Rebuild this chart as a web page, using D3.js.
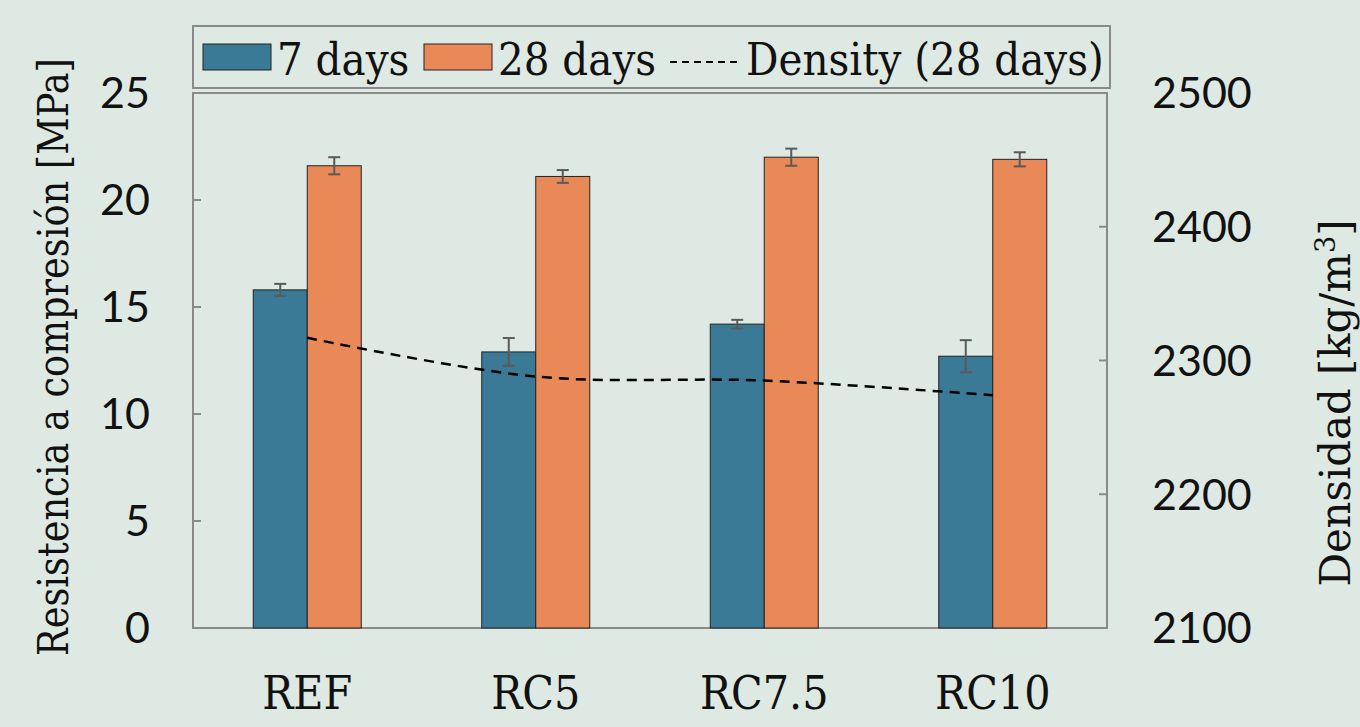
<!DOCTYPE html>
<html>
<head>
<meta charset="utf-8">
<script src="https://cdn.jsdelivr.net/npm/d3@7"></script>
<style>
  body { margin: 0; background: #dde9e2; }
  svg { display: block; }
  .slab { font-family: "DejaVu Serif Condensed", "DejaVu Serif", serif; font-stretch: condensed; }
  .num { font-family: Lato, "Open Sans", sans-serif; }
</style>
</head>
<body>
<div id="chart"></div>
<script>

var categories = ["REF", "RC5", "RC7.5", "RC10"];
var days7 = [15.8, 12.9, 14.2, 12.7];
var days7Err = [0.28, 0.65, 0.2, 0.75];
var days28 = [21.6, 21.1, 22.0, 21.9];
var days28Err = [0.4, 0.3, 0.4, 0.33];
var density28 = [2317, 2288, 2285, 2274];
var leftTicks = [0, 5, 10, 15, 20, 25];
var rightTicks = [2100, 2200, 2300, 2400, 2500];

var width = 1360,
    height = 727;

var plot = {left: 193, right: 1107, top: 93, bottom: 628};

var svg = d3.select("#chart").append("svg")
    .attr("width", width)
    .attr("height", height);

svg.append("rect")
    .attr("width", width)
    .attr("height", height)
    .attr("fill", "#dde9e2");

var x = d3.scaleBand()
    .domain(categories)
    .range([plot.left, plot.right]);

var yL = d3.scaleLinear().domain([0, 25]).range([plot.bottom, plot.top]);
var yR = d3.scaleLinear().domain([2100, 2500]).range([plot.bottom, plot.top]);

var barW = 54;

// plot frame
svg.append("rect")
    .attr("x", plot.left)
    .attr("y", plot.top)
    .attr("width", plot.right - plot.left)
    .attr("height", plot.bottom - plot.top)
    .attr("fill", "none")
    .attr("stroke", "#8a8a8a")
    .attr("stroke-width", 2);

// inner ticks left
svg.append("g").selectAll("line")
    .data(leftTicks.slice(1, -1))
    .enter().append("line")
    .attr("x1", plot.left).attr("x2", plot.left + 8)
    .attr("y1", function(d) { return yL(d); })
    .attr("y2", function(d) { return yL(d); })
    .attr("stroke", "#8a8a8a").attr("stroke-width", 2);

// inner ticks right
svg.append("g").selectAll("line")
    .data(rightTicks.slice(1, -1))
    .enter().append("line")
    .attr("x1", plot.right - 8).attr("x2", plot.right)
    .attr("y1", function(d) { return yR(d); })
    .attr("y2", function(d) { return yR(d); })
    .attr("stroke", "#8a8a8a").attr("stroke-width", 2);

// left tick labels
svg.append("g").selectAll("text")
    .data(leftTicks)
    .enter().append("text")
    .attr("class", "num")
    .attr("x", 150)
    .attr("y", function(d) { return yL(d); })
    .attr("dy", "0.36em")
    .attr("text-anchor", "end")
    .attr("font-size", 43)
    .attr("fill", "#111")
    .text(function(d) { return d; });

// right tick labels
svg.append("g").selectAll("text")
    .data(rightTicks)
    .enter().append("text")
    .attr("class", "num")
    .attr("x", 1152)
    .attr("y", function(d) { return yR(d); })
    .attr("dy", "0.36em")
    .attr("text-anchor", "start")
    .attr("font-size", 43)
    .attr("fill", "#111")
    .text(function(d) { return d; });

// bars
var bars = svg.append("g");
bars.selectAll("rect.d7")
    .data(days7)
    .enter().append("rect")
    .attr("class", "d7")
    .attr("x", function(d, i) { return x(categories[i]) + x.bandwidth() / 2 - barW; })
    .attr("y", function(d) { return yL(d); })
    .attr("width", barW)
    .attr("height", function(d) { return plot.bottom - yL(d); })
    .attr("fill", "#3b7a96")
    .attr("stroke", "#222")
    .attr("stroke-width", 1);

bars.selectAll("rect.d28")
    .data(days28)
    .enter().append("rect")
    .attr("class", "d28")
    .attr("x", function(d, i) { return x(categories[i]) + x.bandwidth() / 2; })
    .attr("y", function(d) { return yL(d); })
    .attr("width", barW)
    .attr("height", function(d) { return plot.bottom - yL(d); })
    .attr("fill", "#e88957")
    .attr("stroke", "#222")
    .attr("stroke-width", 1);

// error bars
function errorBars(vals, errs, offset) {
  var g = svg.append("g").attr("stroke", "#5a5a5a").attr("stroke-width", 2);
  vals.forEach(function(v, i) {
    var cx = x(categories[i]) + x.bandwidth() / 2 + offset;
    var y1 = yL(v + errs[i]), y2 = yL(v - errs[i]);
    g.append("line").attr("x1", cx).attr("x2", cx).attr("y1", y1).attr("y2", y2);
    g.append("line").attr("x1", cx - 6).attr("x2", cx + 6).attr("y1", y1).attr("y2", y1);
    g.append("line").attr("x1", cx - 6).attr("x2", cx + 6).attr("y1", y2).attr("y2", y2);
  });
}
errorBars(days7, days7Err, -barW / 2);
errorBars(days28, days28Err, barW / 2);

// density line
var line = d3.line()
    .x(function(d, i) { return x(categories[i]) + x.bandwidth() / 2; })
    .y(function(d) { return yR(d); })
    .curve(d3.curveCatmullRom.alpha(0.5));

svg.append("path")
    .datum(density28)
    .attr("d", line)
    .attr("fill", "none")
    .attr("stroke", "#000")
    .attr("stroke-width", 2.5)
    .attr("stroke-dasharray", "10,7");

// x labels
svg.append("g").selectAll("text")
    .data(categories)
    .enter().append("text")
    .attr("class", "slab")
    .attr("x", function(d) { return x(d) + x.bandwidth() / 2; })
    .attr("y", 709)
    .attr("text-anchor", "middle")
    .attr("font-size", 46)
    .attr("fill", "#111")
    .text(function(d) { return d; });

// axis titles
svg.append("text")
    .attr("class", "slab")
    .attr("transform", "translate(68,357) rotate(-90) scale(0.95,1)")
    .attr("text-anchor", "middle")
    .attr("font-size", 43)
    .attr("fill", "#111")
    .text("Resistencia a compresión [MPa]");

var rt = svg.append("text")
    .attr("class", "slab")
    .attr("transform", "translate(1350,403) rotate(-90) scale(1.08,1)")
    .attr("text-anchor", "middle")
    .attr("font-size", 43)
    .attr("fill", "#111");
rt.append("tspan").text("Densidad [kg/m");
rt.append("tspan").attr("dy", -15).attr("font-size", 28).text("3");
rt.append("tspan").attr("dy", 15).text("]");

// legend
var leg = svg.append("g");
leg.append("rect")
    .attr("x", 193).attr("y", 26)
    .attr("width", 917).attr("height", 62)
    .attr("fill", "none")
    .attr("stroke", "#8a8a8a")
    .attr("stroke-width", 2);

leg.append("rect").attr("x", 203).attr("y", 44).attr("width", 68).attr("height", 26)
    .attr("fill", "#3b7a96").attr("stroke", "#222").attr("stroke-width", 1);
leg.append("text").attr("class", "slab").attr("x", 277).attr("y", 75)
    .attr("font-size", 45).attr("fill", "#111").text("7 days");

leg.append("rect").attr("x", 424).attr("y", 44).attr("width", 68).attr("height", 26)
    .attr("fill", "#e88957").attr("stroke", "#222").attr("stroke-width", 1);
leg.append("text").attr("class", "slab").attr("x", 498).attr("y", 75)
    .attr("font-size", 45).attr("fill", "#111").text("28 days");

leg.append("line").attr("x1", 670).attr("x2", 740).attr("y1", 62).attr("y2", 62)
    .attr("stroke", "#000").attr("stroke-width", 2).attr("stroke-dasharray", "7,5");
leg.append("text").attr("class", "slab").attr("x", 746).attr("y", 75)
    .attr("font-size", 45).attr("fill", "#111").text("Density (28 days)");

</script>
</body>
</html>
